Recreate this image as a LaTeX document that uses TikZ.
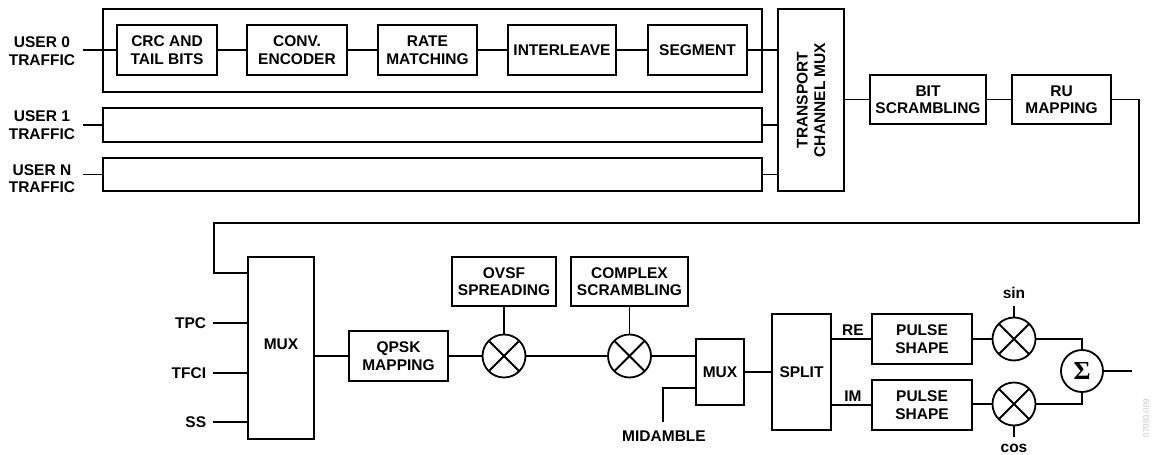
\documentclass[tikz,border=0pt]{standalone}
\usepackage{fontspec}
\setmainfont{Liberation Sans}
\newfontfamily\sigfont{Liberation Serif}
\begin{document}
\begin{tikzpicture}[x=1pt,y=-1pt,line width=1.8pt,
  every node/.style={font=\fontsize{15.5}{17.5}\selectfont\bfseries,align=center,inner sep=0pt},
  box/.style={draw,rectangle},
  mult/.style={draw,circle,minimum size=43pt,
    path picture={\draw[line width=1.8pt] (path picture bounding box.south west) -- (path picture bounding box.north east)
      (path picture bounding box.north west) -- (path picture bounding box.south east);}},
  summer/.style={draw,circle,minimum size=42pt}]
\useasboundingbox (0,0) rectangle (1152,455);

% ---- user 0 chain
\node[box,minimum width=659pt,minimum height=83pt] (u0) at (432.5,50.5) {};
\node[box,minimum width=100pt,minimum height=50pt] (crc) at (167,50) {CRC AND\\TAIL BITS};
\node[box,minimum width=100pt,minimum height=50pt] (conv) at (297,50) {CONV.\\ENCODER};
\node[box,minimum width=99pt,minimum height=50pt] (rate) at (427.5,50) {RATE\\MATCHING};
\node[box,minimum width=108pt,minimum height=50pt] (inter) at (562,50) {INTERLEAVE};
\node[box,minimum width=99pt,minimum height=50pt] (seg) at (697.5,50) {SEGMENT};
\node[box,minimum width=659pt,minimum height=34pt] (u1) at (432.5,125) {};
\node[box,minimum width=659pt,minimum height=33pt] (uN) at (432.5,174.5) {};
\node[box,minimum width=66pt,minimum height=182pt] (tcm) at (811,100) {};
\node[rotate=90] (tcmt) at (tcm.center) {TRANSPORT\\CHANNEL MUX};
\node[box,minimum width=116pt,minimum height=49pt] (bit) at (928,99.5) {BIT\\SCRAMBLING};
\node[box,minimum width=99pt,minimum height=49pt] (ru) at (1061.5,99.5) {RU\\MAPPING};

\node[anchor=east] (l0) at (76,51) {USER 0\\TRAFFIC};
\node[anchor=east] (l1) at (76,125) {USER 1\\TRAFFIC};
\node[anchor=east] (lN) at (76,178.5) {USER N\\TRAFFIC};
\coordinate (u0in) at (83,50);
\coordinate (u1in) at (83,125);
\coordinate (uNin) at (83,174.5);

\draw (u0in) -- (crc.west);
\draw (crc.east) -- (conv.west);
\draw (conv.east) -- (rate.west);
\draw (rate.east) -- (inter.west);
\draw (inter.east) -- (seg.west);
\draw (seg.east) -- (seg.east -| tcm.west);
\draw (u1in) -- (u1.west);
\draw (uNin) -- (uN.west);
\draw (u1.east) -- (u1.east -| tcm.west);
\draw (uN.east) -- (uN.east -| tcm.west);
\draw (tcm.east |- bit.west) -- (bit.west);
\draw (bit.east) -- (ru.west);

% ---- lower chain
\node[box,minimum width=66pt,minimum height=182pt] (mux1) at (281,348) {};
\node (mux1t) at ([yshift=4pt]mux1.center) {MUX};
\node[box,minimum width=99pt,minimum height=50pt] (qpsk) at (398.5,356) {QPSK\\MAPPING};
\node[mult] (m1) at (504,356) {};
\node[box,minimum width=104pt,minimum height=49pt] (ovsf) at (504,281.5) {OVSF\\SPREADING};
\node[box,minimum width=117pt,minimum height=49pt] (cplx) at (629.5,281.5) {COMPLEX\\SCRAMBLING};
\node[mult] (m2) at (629.5,356) {};
\node[box,minimum width=48pt,minimum height=66pt] (mux2) at (720,372) {MUX};
\node[box,minimum width=59pt,minimum height=116pt] (split) at (801.5,372) {SPLIT};
\node[box,minimum width=100pt,minimum height=50pt] (ps1) at (922,339) {PULSE\\SHAPE};
\node[box,minimum width=100pt,minimum height=50pt] (ps2) at (922,405) {PULSE\\SHAPE};
\node[mult] (ms) at (1014,339) {};
\node[mult] (mc) at (1014,404) {};
\node[summer] (sig) at (1082,371) {\sigfont\bfseries\fontsize{26}{26}\selectfont Σ};

\coordinate (fbA) at (1139,223);
\coordinate (fbB) at (214,273);
\draw (ru.east) -| (fbA) -| (fbB) -- (fbB -| mux1.west);

\coordinate (tpc) at (213,323);
\coordinate (tfci) at (213,373);
\coordinate (ss) at (213,422);
\node[anchor=east] (tpcl) at (207,323) {TPC};
\node[anchor=east] (tfcil) at (207,373) {TFCI};
\node[anchor=east] (ssl) at (207,422) {SS};
\draw (tpc) -- (tpc -| mux1.west);
\draw (tfci) -- (tfci -| mux1.west);
\draw (ss) -- (ss -| mux1.west);

\draw (mux1.east |- qpsk.west) -- (qpsk.west);
\draw (qpsk.east) -- (m1.west);
\draw (ovsf.south) -- (m1.north);
\draw (m1.east) -- (m2.west);
\draw (cplx.south) -- (m2.north);
\draw (m2.east) -- (m2.east -| mux2.west);
\coordinate (mid) at (663,422);
\draw (mid) |- ([yshift=-16pt]mux2.west);
\node[anchor=north] (midl) at (664,430) {MIDAMBLE};
\draw (mux2.east) -- (split.west);
\draw (split.east |- ps1.west) -- (ps1.west);
\draw (split.east |- ps2.west) -- (ps2.west);
\node (rel) at (853,330) {RE};
\node (iml) at (853,396) {IM};
\draw (ps1.east) -- (ms.west);
\draw (ps2.east |- mc.west) -- (mc.west);
\draw (ms.east) -| (sig.north);
\draw (mc.east) -| (sig.south);
\coordinate (sinin) at (1014,306);
\coordinate (cosin) at (1014,437);
\node (sinl) at (1014,293) {sin};
\node (cosl) at (1014,448) {cos};
\draw (sinin) -- (ms.north);
\draw (cosin) -- (mc.south);
\coordinate (out) at (1132,371);
\draw (sig.east) -- (out);

\node[rotate=90,text=gray!45,font=\fontsize{8}{8}\selectfont] (fig) at (1146,418) {07083-009};
\end{tikzpicture}
\end{document}
